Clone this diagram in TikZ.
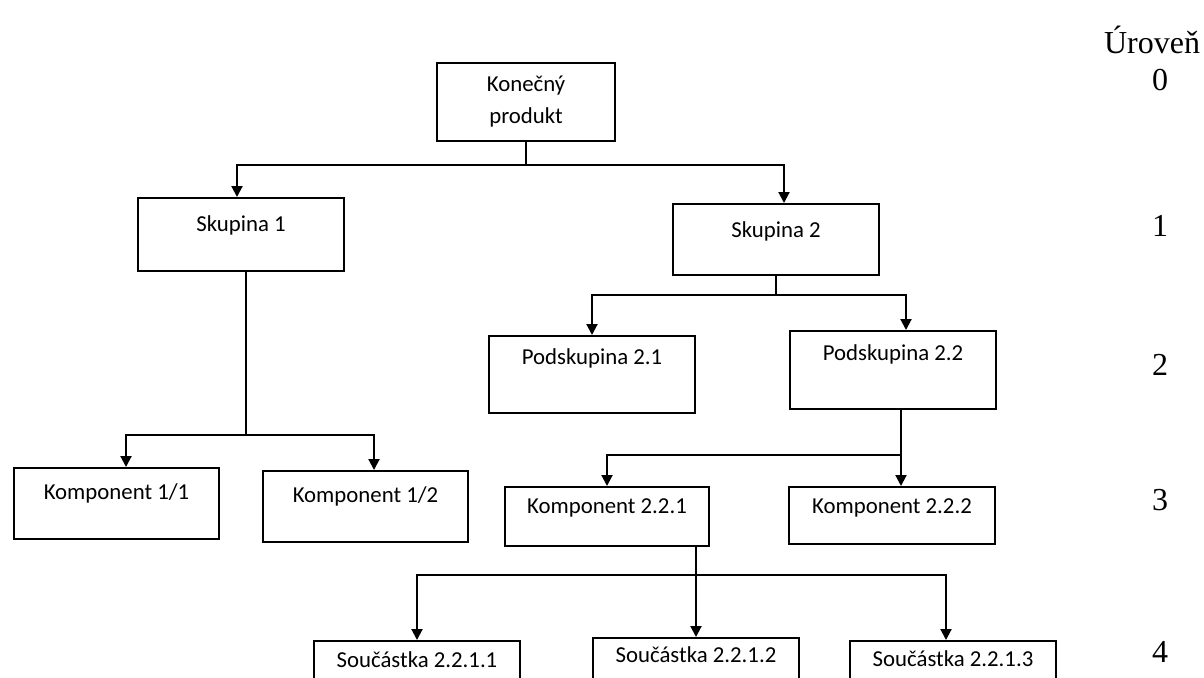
\documentclass[tikz,border=0pt]{standalone}
\usepackage{fontspec}
\setmainfont{Carlito}
\newfontfamily\lvlfont{Liberation Serif}
\usetikzlibrary{arrows.meta}
\begin{document}
\begin{tikzpicture}[x=0.5pt,y=-0.5pt,
  bx/.style={draw, line width=1pt, rectangle, anchor=north west, inner xsep=0pt, inner ysep=0pt, minimum width=103pt, font=\fontsize{11.4}{16}\selectfont},
  ln/.style={line width=1pt},
  arr/.style={line width=1pt, -{Triangle[length=5.5pt,width=5.5pt]}},
  lvl/.style={font=\lvlfont\fontsize{16}{19}\selectfont, anchor=base}]
\fill[white] (0,0) rectangle (1204,677);
\useasboundingbox (0,0) rectangle (1204,677);
\clip (0,0) rectangle (1204,677);
% boxes
\node[bx, minimum width=89pt, minimum height=39pt, align=center] (kp) at (436,62) {Konečný\\produkt};
\node[bx, text height=16.5pt, text depth=20pt] (s1) at (137,197) {Skupina 1};
\node[bx, text height=16.5pt, text depth=19pt] (s2) at (672,203) {Skupina 2};
\node[bx, minimum width=102.5pt, text height=15.5pt, text depth=20pt] (k11) at (13,467) {Komponent 1/1};
\node[bx, minimum width=102.5pt, text height=15.5pt, text depth=20pt] (k12) at (262,470) {Komponent 1/2};
\node[bx, text height=14pt, text depth=24.5pt] (p21) at (488,335) {Podskupina 2.1};
\node[bx, text height=14.5pt, text depth=24.5pt] (p22) at (789,330) {Podskupina 2.2};
\node[bx, minimum width=102pt, text height=13pt, text depth=16.5pt] (k221) at (504,486) {Komponent 2.2.1};
\node[bx, text height=13pt, text depth=15.5pt] (k222) at (788,486) {Komponent 2.2.2};
\node[bx, text height=13pt, text depth=17pt] (sc1) at (313,640) {Součástka 2.2.1.1};
\node[bx, text height=12pt, text depth=19.5pt] (sc2) at (592,637) {Součástka 2.2.1.2};
\node[bx, text height=12.5pt, text depth=17.5pt] (sc3) at (849,640) {Součástka 2.2.1.3};
% connectors
\draw[ln] (kp.south) -- ++(0,23) coordinate (j0);
\draw[arr] (j0) -| ([xshift=-2pt]s1.north);
\draw[arr] (j0) -| ([xshift=4pt]s2.north);
\draw[ln] (s2.south) -- ++(0,19) coordinate (j1);
\draw[arr] (j1) -| (p21.north);
\draw[arr] (j1) -| ([xshift=6.5pt]p22.north);
\draw[ln] ([xshift=2.5pt]s1.south) -- ++(0,163) coordinate (j2);
\draw[arr] (j2) -| ([xshift=4.75pt]k11.north);
\draw[arr] (j2) -| ([xshift=4.25pt]k12.north);
\draw[ln] ([xshift=4pt]p22.south) -- ++(0,45) coordinate (j3);
\draw[arr] (j3) -| (k221.north);
\draw[arr] (j3) -| ([xshift=4.5pt]k222.north);
\coordinate (h4) at (0,575);
\coordinate (j4) at (sc2.north |- h4);
\draw[arr] (sc2.north |- k221.south) -- (sc2.north);
\draw[arr] (j4) -| (sc1.north);
\draw[arr] (j4) -| ([xshift=-3.5pt]sc3.north);
% levels
\node[lvl] (u) at (1152,53) {Úroveň};
\node[lvl] (l0) at (1160,90) {0};
\node[lvl] (l1) at (1160,236) {1};
\node[lvl] (l2) at (1160,375) {2};
\node[lvl] (l3) at (1160,510) {3};
\node[lvl] (l4) at (1160,662) {4};
\end{tikzpicture}
\end{document}
